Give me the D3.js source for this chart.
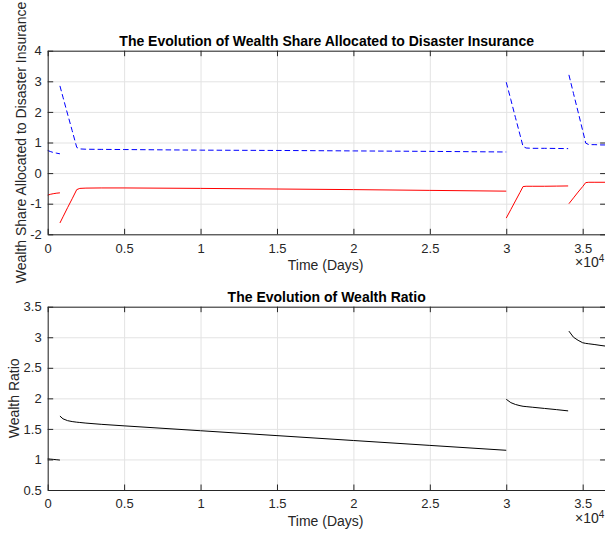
<!DOCTYPE html>
<html>
<head>
<meta charset="utf-8">
<script src="https://cdn.jsdelivr.net/npm/d3@7"></script>
<style>
  html, body { margin: 0; padding: 0; background: #fff; overflow: hidden; }
  text { font-family: "Liberation Sans", Arial, Helvetica, sans-serif; }
</style>
</head>
<body>
<svg id="chart" width="605" height="533"></svg>
<script>
// time points (days) for each run between shocks
const days = [
  [0, 200, 400, 600, 800],
  [800, 1000, 1300, 1600, 1900, 2100, 2500, 3500, 5000, 10000, 15000, 20000, 25000, 30000],
  [30000, 30300, 30600, 30900, 31100, 31300, 31700, 32500, 33300, 34050],
  [34100, 34400, 34700, 35000, 35200, 35400, 35800, 36200, 36500]
];
// wealth share, dashed blue series
const shareBlue = [
  [0.74, 0.70, 0.67, 0.65, 0.63],
  [2.85, 2.48, 1.93, 1.39, 0.84, 0.79, 0.78, 0.775, 0.77, 0.75, 0.74, 0.725, 0.71, 0.69],
  [2.97, 2.40, 1.82, 1.25, 0.87, 0.82, 0.81, 0.81, 0.805, 0.80],
  [3.21, 2.60, 2.00, 1.39, 0.98, 0.93, 0.93, 0.92, 0.92]
];
// wealth share, solid red series
const shareRed = [
  [-0.72, -0.69, -0.67, -0.655, -0.645],
  [-1.63, -1.43, -1.13, -0.84, -0.54, -0.50, -0.49, -0.485, -0.485, -0.50, -0.52, -0.54, -0.565, -0.59],
  [-1.47, -1.19, -0.91, -0.63, -0.44, -0.43, -0.43, -0.43, -0.425, -0.42],
  [-1.00, -0.81, -0.62, -0.44, -0.31, -0.30, -0.30, -0.30, -0.30]
];
// wealth ratio
const wealthRatio = [
  [1.01, 1.005, 1.0, 0.995, 0.99],
  [1.71, 1.665, 1.635, 1.62, 1.61, 1.605, 1.595, 1.575, 1.55, 1.47, 1.39, 1.31, 1.23, 1.15],
  [1.985, 1.93, 1.90, 1.88, 1.87, 1.865, 1.855, 1.835, 1.815, 1.795],
  [3.10, 3.00, 2.95, 2.91, 2.90, 2.893, 2.88, 2.865, 2.855]
];
const xTicks = [0, 5000, 10000, 15000, 20000, 25000, 30000, 35000];
const shareTicks = [-2, -1, 0, 1, 2, 3, 4];
const ratioTicks = [0.5, 1, 1.5, 2, 2.5, 3, 3.5];

const svg = d3.select("#chart");
const left = 47.7, right = 605.6;
const ink = "#262626", gridCol = "#e3e3e3", tick = 5.5;

const x = d3.scaleLinear().domain([0, 36500]).range([left, right]);

function panel(top, bottom, yDomain, yTicks, title, ylabel, ylabX, series) {
  const y = d3.scaleLinear().domain(yDomain).range([bottom, top]);
  const g = svg.append("g");

  // grid
  g.append("g").attr("transform", `translate(0,${bottom})`)
    .call(d3.axisBottom(x).tickValues(xTicks).tickSize(-(bottom - top)).tickFormat(""))
    .call(a => a.select(".domain").remove())
    .selectAll("line").attr("stroke", gridCol);
  g.append("g").attr("transform", `translate(${left},0)`)
    .call(d3.axisLeft(y).tickValues(yTicks).tickSize(-(right - left)).tickFormat(""))
    .call(a => a.select(".domain").remove())
    .selectAll("line").attr("stroke", gridCol);

  // data
  series.forEach(s => {
    const line = d3.line().x(d => x(d[0])).y(d => y(d[1]));
    s.values.forEach((vals, i) => {
      const pts = days[i].map((t, j) => [t, vals[j]]);
      g.append("path").attr("d", line(pts))
        .attr("fill", "none").attr("stroke", s.color).attr("stroke-width", 1)
        .attr("stroke-dasharray", s.dash || null);
    });
  });

  // axes (box with inward ticks)
  const styleAxis = a => {
    a.select(".domain").attr("stroke", ink);
    a.selectAll(".tick line").attr("stroke", ink);
    a.selectAll("text").attr("fill", ink).attr("font-size", 13);
  };
  g.append("g").attr("transform", `translate(0,${bottom})`)
    .call(d3.axisBottom(x).tickValues(xTicks).tickSizeInner(-tick).tickSizeOuter(0)
      .tickPadding(9).tickFormat(d => String(d / 1e4)))
    .call(styleAxis);
  g.append("g").attr("transform", `translate(0,${top})`)
    .call(d3.axisTop(x).tickValues(xTicks).tickSizeInner(-tick).tickSizeOuter(0).tickFormat(""))
    .call(styleAxis);
  g.append("g").attr("transform", `translate(${left},0)`)
    .call(d3.axisLeft(y).tickValues(yTicks).tickSizeInner(-tick).tickSizeOuter(0)
      .tickPadding(6).tickFormat(d => String(d)))
    .call(styleAxis);
  g.append("g").attr("transform", `translate(${right},0)`)
    .call(d3.axisRight(y).tickValues(yTicks).tickSizeInner(-tick).tickSizeOuter(0).tickFormat(""))
    .call(styleAxis);

  // texts
  const cx = (left + right) / 2;
  g.append("text").attr("x", cx).attr("y", top - 5).attr("text-anchor", "middle")
    .attr("font-size", 14).attr("font-weight", "bold").attr("fill", "#000").text(title);
  g.append("text").attr("x", cx - 1).attr("y", bottom + 36).attr("text-anchor", "middle")
    .attr("font-size", 14).attr("fill", ink).text("Time (Days)");
  const ex = g.append("text").attr("x", 575).attr("y", bottom + 33)
    .attr("font-size", 14).attr("fill", ink);
  ex.append("tspan").text("\u00d710");
  ex.append("tspan").attr("dy", -5).attr("font-size", 10).text("4");
  g.append("text")
    .attr("transform", `translate(${ylabX},${(top + bottom) / 2}) rotate(-90)`)
    .attr("text-anchor", "middle").attr("font-size", 14).attr("fill", ink).text(ylabel);
}

panel(50.7, 234.3, [-2, 4], shareTicks,
  "The Evolution of Wealth Share Allocated to Disaster Insurance",
  "Wealth Share Allocated to Disaster Insurance", 26,
  [{ values: shareBlue, color: "#0000ff", dash: "5.5,3" },
   { values: shareRed, color: "#ff0000" }]);

panel(306.7, 490, [0.5, 3.5], ratioTicks,
  "The Evolution of Wealth Ratio", "Wealth Ratio", 19,
  [{ values: wealthRatio, color: "#000000" }]);
</script>
</body>
</html>
